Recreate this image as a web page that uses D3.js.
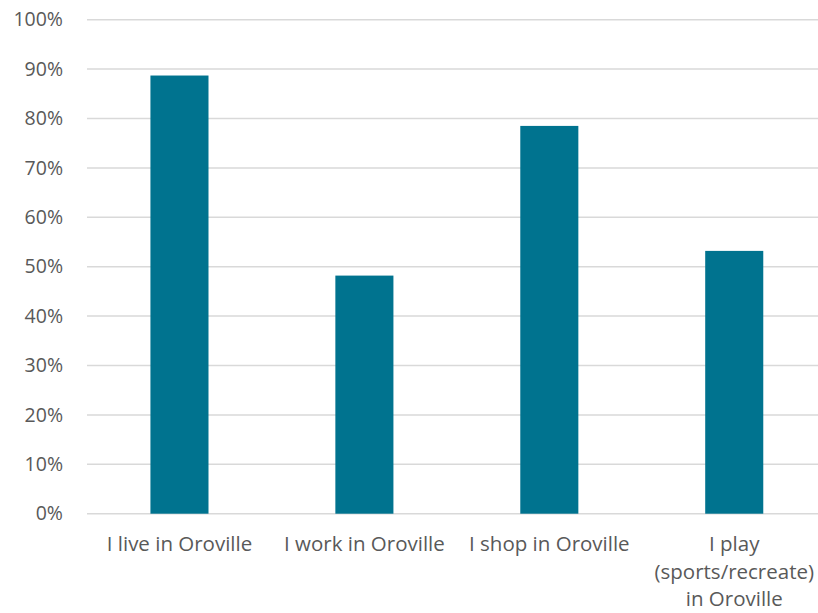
<!DOCTYPE html>
<html>
<head>
<meta charset="utf-8">
<script src="https://cdn.jsdelivr.net/npm/d3@7"></script>
<style>
  html, body { margin: 0; padding: 0; background: #fff; }
  svg { display: block; }
  .tick text { font-family: "Open Sans", sans-serif; fill: #595959; }
</style>
</head>
<body>
<svg id="chart" width="818" height="613"></svg>
<script>
// Share of respondents by how they relate to Oroville
const categories = [
  "I live in Oroville",
  "I work in Oroville",
  "I shop in Oroville",
  "I play (sports/recreate) in Oroville"
];
const categoryLines = [
  ["I live in Oroville"],
  ["I work in Oroville"],
  ["I shop in Oroville"],
  ["I play", "(sports/recreate)", "in Oroville"]
];
const values = [0.887, 0.482, 0.785, 0.532];
const yTicks = [0, 0.1, 0.2, 0.3, 0.4, 0.5, 0.6, 0.7, 0.8, 0.9, 1.0];

const svg = d3.select("#chart");
const margin = { top: 19.7, left: 87, bottom: 99 };
const plotRight = 826.7;
const height = 613;

const x = d3.scaleBand()
  .domain(categories)
  .range([margin.left, plotRight])
  .paddingInner(0.686)
  .paddingOuter(0.343);

const y = d3.scaleLinear()
  .domain([0, 1])
  .range([height - margin.bottom - 0.3, margin.top]);

// Horizontal gridlines
svg.append("g")
  .selectAll("line")
  .data(yTicks)
  .join("line")
  .attr("x1", margin.left)
  .attr("x2", plotRight)
  .attr("y1", d => y(d))
  .attr("y2", d => y(d))
  .attr("stroke", "#d9d9d9")
  .attr("stroke-width", 1.5);

// Y axis labels
const yAxis = svg.append("g")
  .attr("transform", `translate(${margin.left},0)`)
  .call(d3.axisLeft(y).tickValues(yTicks).tickFormat(d3.format(".0%")).tickSize(0).tickPadding(24));
yAxis.select(".domain").remove();
yAxis.selectAll("text").attr("font-size", 19.5);

// Bars
svg.append("g")
  .selectAll("rect")
  .data(values)
  .join("rect")
  .attr("x", (d, i) => x(categories[i]))
  .attr("width", x.bandwidth())
  .attr("y", d => y(d))
  .attr("height", d => y(0) - y(d))
  .attr("fill", "#00738f");

// X axis labels (wrapped)
const xAxis = svg.append("g")
  .attr("transform", `translate(0,${y(0)})`)
  .call(d3.axisBottom(x).tickSize(0).tickFormat(""));
xAxis.select(".domain").remove();
xAxis.selectAll(".tick text").remove();
xAxis.selectAll(".tick")
  .append("text")
  .attr("text-anchor", "middle")
  .attr("font-size", 20.5)
  .selectAll("tspan")
  .data((d, i) => categoryLines[i])
  .join("tspan")
  .attr("x", 0)
  .attr("y", (d, j) => 37.5 + j * 27.5)
  .text(d => d);
</script>
</body>
</html>
